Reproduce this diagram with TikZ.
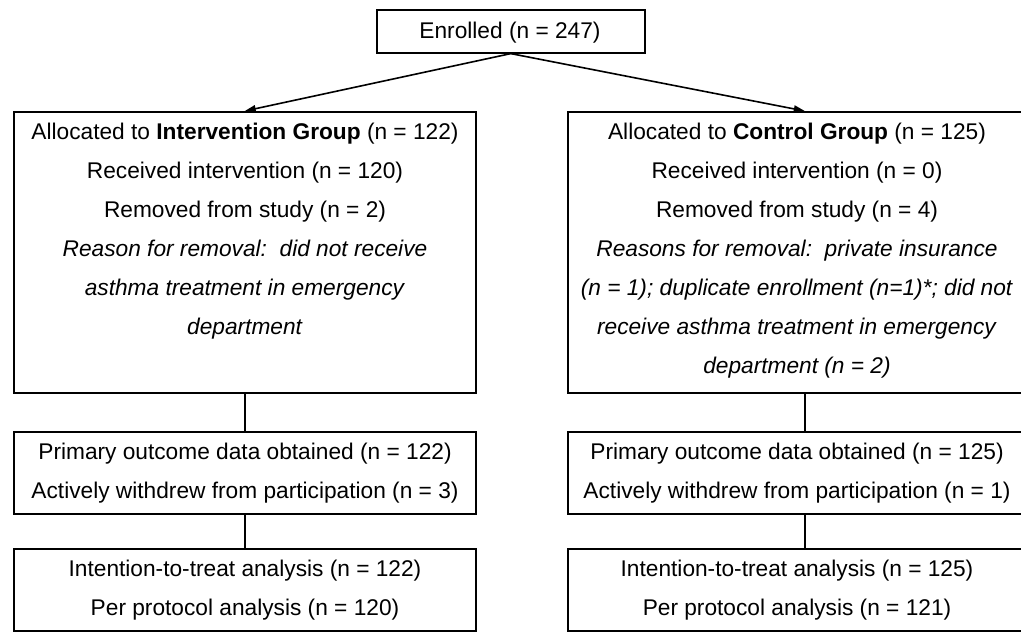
\documentclass[tikz,border=0pt]{standalone}
\usepackage{fontspec}
\setmainfont{Liberation Sans}
\usetikzlibrary{arrows.meta}
\begin{document}
\begin{tikzpicture}[x=1pt,y=-1pt,
  box/.style={draw, line width=1.6pt, inner sep=0pt, anchor=north west},
  txt/.style={anchor=base, align=center, inner sep=0pt, font=\fontsize{22.7}{39}\selectfont},
  conn/.style={line width=1.6pt},
  arr/.style={-{Triangle[length=11pt,width=7pt]}, line width=1.6pt}]
\useasboundingbox (0,0) rectangle (1021,633);
\clip (0,0) rectangle (1021,633);
% boxes
\node[box, minimum width=268pt, minimum height=43pt] (enr) at (376,9) {};
\node[box, minimum width=462pt, minimum height=281pt] (L1) at (13,111) {};
\node[box, minimum width=474pt, minimum height=281pt] (R1) at (567,111) {};
\node[box, minimum width=462pt, minimum height=82pt] (L2) at (13,431) {};
\node[box, minimum width=474pt, minimum height=82pt] (R2) at (567,431) {};
\node[box, minimum width=462pt, minimum height=82pt] (L3) at (13,548) {};
\node[box, minimum width=474pt, minimum height=82pt] (R3) at (567,548) {};
% texts (anchor base = baseline of the last line)
\node[txt] (enrt) at (510,38) {Enrolled (n = 247)};
\node[txt] (L1t) at (245,334) {Allocated to \textbf{Intervention Group} (n = 122)\\Received intervention (n = 120)\\Removed from study (n = 2)\\\textit{Reason for removal:\ \ did not receive}\\\textit{asthma treatment in emergency}\\\textit{department}};
\node[txt] (R1t) at (797,373) {Allocated to \textbf{Control Group} (n = 125)\\Received intervention (n = 0)\\Removed from study (n = 4)\\\textit{Reasons for removal:\ \ private insurance}\\\textit{(n = 1); duplicate enrollment (n=1)*; did not}\\\textit{receive asthma treatment in emergency}\\\textit{department (n = 2)}};
\node[txt] (L2t) at (245,498) {Primary outcome data obtained (n = 122)\\Actively withdrew from participation (n = 3)};
\node[txt] (R2t) at (797,498) {Primary outcome data obtained (n = 125)\\Actively withdrew from participation (n = 1)};
\node[txt] (L3t) at (245,615) {Intention-to-treat analysis (n = 122)\\Per protocol analysis (n = 120)};
\node[txt] (R3t) at (797,615) {Intention-to-treat analysis (n = 125)\\Per protocol analysis (n = 121)};
% connectors
\draw[arr] (enr.south) -- (L1.north);
\draw[arr] (enr.south) -- (R1.north);
\draw[conn] (L1.south) -- (L2.north);
\draw[conn] (L2.south) -- (L3.north);
\draw[conn] (R1.south) -- (R2.north);
\draw[conn] (R2.south) -- (R3.north);
\end{tikzpicture}
\end{document}
